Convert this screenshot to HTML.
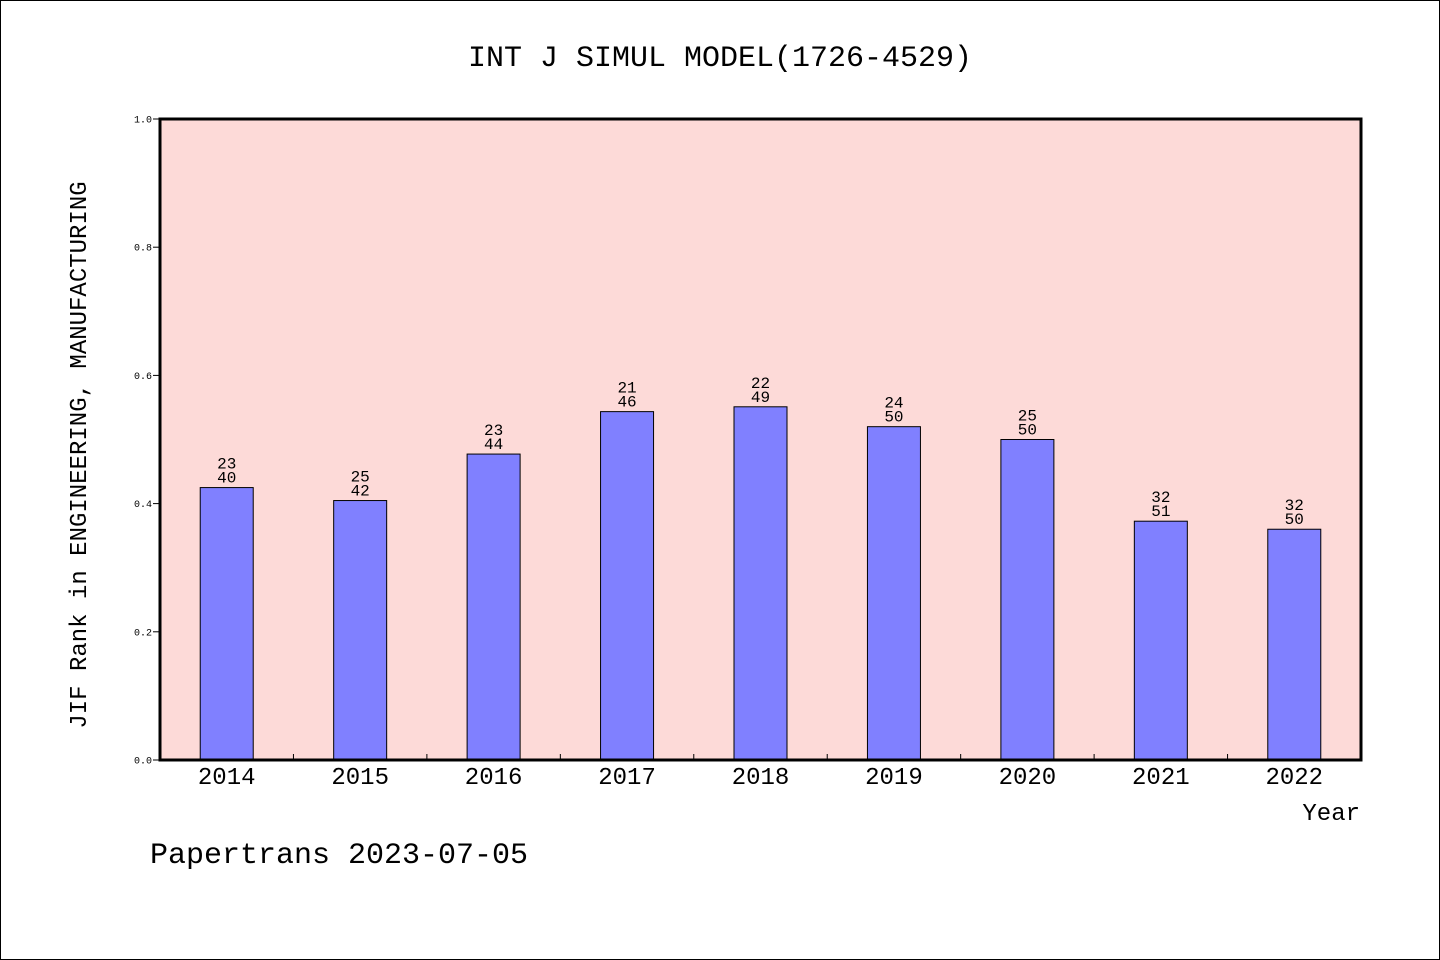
<!DOCTYPE html>
<html><head><meta charset="utf-8"><style>
body{margin:0;background:#fff}
svg{display:block}
text{font-family:"WenQuanYi Zen Hei","Liberation Mono",monospace;fill:#000}
</style></head><body>
<svg width="1440" height="960" id="svg">
<rect x="0.5" y="0.5" width="1439" height="959" fill="#fff" stroke="#000"/>
<text x="720" y="66" font-size="30" text-anchor="middle">INT J SIMUL MODEL(1726-4529)</text>
<rect x="160" y="119" width="1201" height="641" fill="#fddad8"/>
<g id="marks"></g>
<rect x="160" y="119" width="1201" height="641" fill="none" stroke="#000" stroke-width="3"/>
<text transform="translate(86,455) rotate(-90)" font-size="24" text-anchor="middle">JIF Rank in ENGINEERING, MANUFACTURING</text>
<text x="1360" y="820" font-size="24" text-anchor="end">Year</text>
<text x="150" y="863" font-size="30">Papertrans 2023-07-05</text>
</svg>
<script>
const years=["2014","2015","2016","2017","2018","2019","2020","2021","2022"];
const ranks=[23,25,23,21,22,24,25,32,32];
const totals=[40,42,44,46,49,50,50,51,50];
const yTicks=["0.0","0.2","0.4","0.6","0.8","1.0"];
const X0=160,X1=1361,Y0=760,Y1=119;
const bw=(X1-X0)/years.length;
const xs=i=>X0+bw*(i+0.5);
const ys=v=>Y0-(Y0-Y1)*v;
const NS="http://www.w3.org/2000/svg";
const g=document.getElementById('marks');
function mk(t,a){const e=document.createElementNS(NS,t);for(const k in a)e.setAttribute(k,a[k]);g.appendChild(e);return e;}
yTicks.forEach(t=>{const y=ys(parseFloat(t));
const l=mk('line',{x1:X0-7,x2:X0,y1:y,y2:y,stroke:'#000','stroke-width':1});


const tx=mk('text',{x:X0-8,y:y+3.5,'font-size':10,'text-anchor':'end'});tx.textContent=t;


});
years.forEach((yr,i)=>{
const v=1-ranks[i]/totals[i];const cx=xs(i);
const b=mk('rect',{x:cx-26.5,y:ys(v),width:53,height:Y0-ys(v),fill:'#8080ff',stroke:'#000','stroke-width':1});


const t1=mk('text',{x:cx,y:ys(v)-19,'font-size':16,'text-anchor':'middle'});t1.textContent=ranks[i];


const t2=mk('text',{x:cx,y:ys(v)-5,'font-size':16,'text-anchor':'middle'});t2.textContent=totals[i];


const xl=mk('text',{x:cx,y:784,'font-size':24,'text-anchor':'middle'});xl.textContent=yr;


if(i>0){const tk=mk('line',{x1:X0+bw*i,x2:X0+bw*i,y1:Y0,y2:Y0-6,stroke:'#000'});

}
});
</script>
</body></html>
